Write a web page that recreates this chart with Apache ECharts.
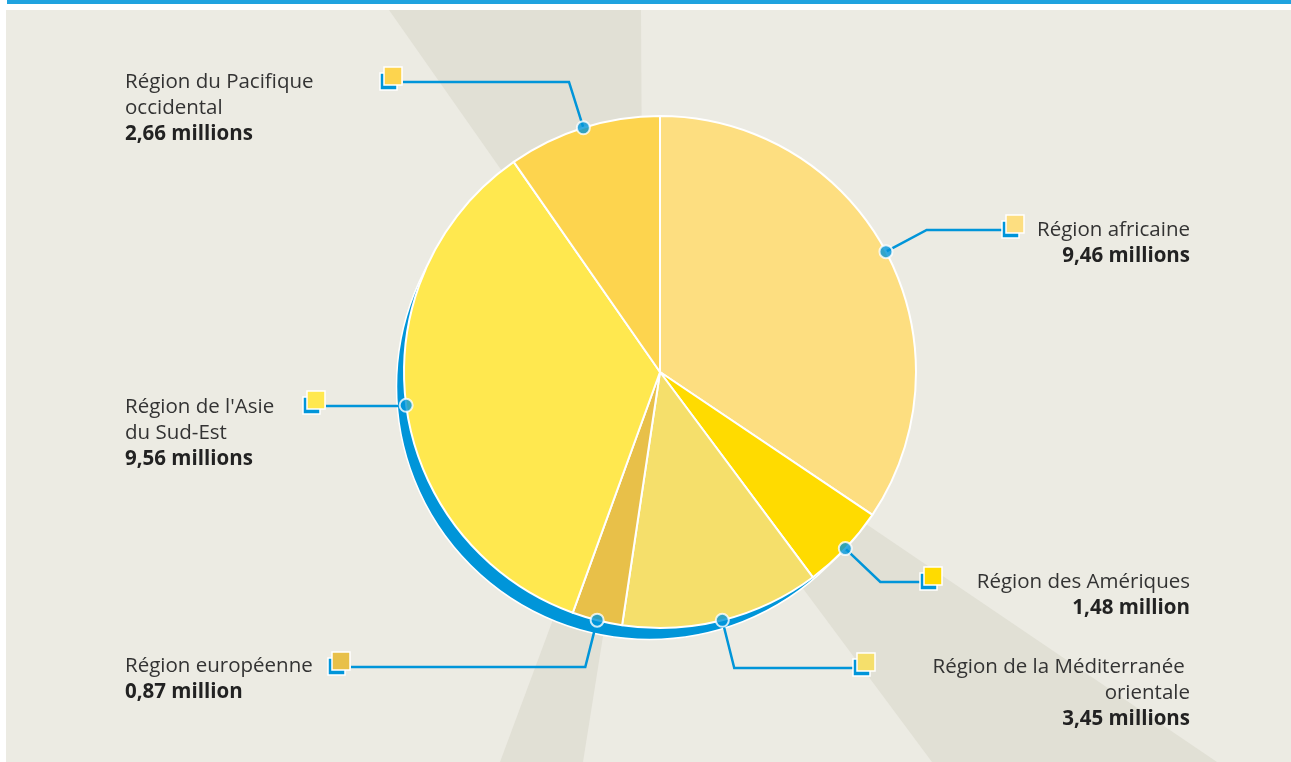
<!DOCTYPE html>
<html>
<head>
<meta charset="utf-8">
<script src="https://cdn.jsdelivr.net/npm/echarts@6/dist/echarts.min.js"></script>
<style>
  html, body { margin: 0; padding: 0; background: #fff; }
  #chart { width: 1291px; height: 762px; }
</style>
</head>
<body>
<div id="chart"></div>
<script>
// données : cas par région (millions)
const regions = ['Région africaine', 'Région des Amériques', 'Région de la Méditerranée \norientale', 'Région européenne', "Région de l'Asie\ndu Sud-Est", 'Région du Pacifique\noccidental'];
const values = [9.46, 1.48, 3.45, 0.87, 9.56, 2.66];
const colors = ['#FDDE80', '#FFDB00', '#F5DF6B', '#E8C049', '#FFE84F', '#FDD44E'];

// mise en page des étiquettes : [x, haut du texte, alignement]
const labelPos = [[1190, 217, 'right'], [1190, 569, 'right'], [1190, 654, 'right'], [125, 653, 'left'], [125, 394, 'left'], [125, 69, 'left']];
// coin haut-gauche des petits carrés
const markerPos = [[1006, 215], [924, 567], [857, 653], [332, 652], [307, 391], [384, 67]];

const CX = 660, CY = 372, R = 256;
const BLUE = '#0095D9';

const total = values.reduce((a, b) => a + b, 0);
let acc = 0;
const mids = values.map(v => { const m = acc + v / 2; acc += v; return m; });

function fmt(v) {
  return v.toFixed(2).replace('.', ',') + (v < 2 ? ' million' : ' millions');
}

// décor : fond, rayons, carrés
const graphics = [
  { type: 'rect', z: -10, silent: true, shape: { x: 7, y: 0, width: 1284, height: 4 }, style: { fill: '#1FA3DF' } },
  { type: 'rect', z: -10, silent: true, shape: { x: 6, y: 10, width: 1285, height: 752 }, style: { fill: '#ECEBE3' } },
  { type: 'polygon', z: -9, silent: true, shape: { points: [[389, 10], [641, 10], [643, 372]] }, style: { fill: '#E1E0D5' } },
  { type: 'polygon', z: -9, silent: true, shape: { points: [[645, 372], [500, 762], [583, 762]] }, style: { fill: '#E1E0D5' } },
  { type: 'polygon', z: -9, silent: true, shape: { points: [[642, 372], [932, 762], [1217, 762]] }, style: { fill: '#E1E0D5' } }
];
markerPos.forEach((m, i) => {
  graphics.push({ type: 'rect', z: 50, silent: true, shape: { x: m[0] - 4, y: m[1] + 6, width: 17, height: 17 }, style: { fill: BLUE, stroke: '#fff', lineWidth: 1.5 } });
  graphics.push({ type: 'rect', z: 51, silent: true, shape: { x: m[0], y: m[1], width: 18, height: 18 }, style: { fill: colors[i], stroke: '#fff', lineWidth: 1.5 } });
});

const chart = echarts.init(document.getElementById('chart'));
const option = {
  backgroundColor: '#fff',
  animation: false,
  graphic: graphics,
  polar: { center: [CX, CY], radius: [0, R] },
  angleAxis: { type: 'value', min: 0, max: total, startAngle: 90, clockwise: true, show: false },
  radiusAxis: { type: 'value', min: 0, max: 1, show: false },
  series: [
    // ombre bleue
    {
      type: 'pie',
      silent: true,
      z: 1,
      center: [CX - 10.5, CY + 14.5],
      radius: R - 3,
      label: { show: false },
      labelLine: { show: false },
      itemStyle: { color: BLUE, borderColor: '#fff', borderWidth: 1.5 },
      data: [{ name: 'ombre', value: 1 }]
    },
    {
      type: 'pie',
      z: 2,
      center: [CX, CY],
      radius: R,
      startAngle: 90,
      clockwise: true,
      itemStyle: { borderColor: '#fff', borderWidth: 2 },
      data: regions.map((n, i) => ({ name: n, value: values[i], itemStyle: { color: colors[i] } })),
      label: {
        show: true,
        position: 'outside',
        formatter: function (p) {
          const lines = p.name.split('\n').map(s => '{n|' + s + '}');
          lines.push('{v|' + fmt(p.value) + '}');
          return lines.join('\n');
        },
        rich: {
          n: { fontFamily: "'Open Sans', sans-serif", fontSize: 20.5, color: '#333333', lineHeight: 26 },
          v: { fontFamily: "'Open Sans', sans-serif", fontSize: 20.5, fontWeight: 'bold', color: '#222222', lineHeight: 26 }
        }
      },
      labelLine: { show: true, length: 48, length2: 20, lineStyle: { color: BLUE, width: 2.5 } },
      labelLayout: function (p) {
        const i = p.dataIndex;
        const lp = labelPos[i], mp = markerPos[i];
        const ly = mp[1] + 15;
        const ex = lp[2] === 'right' ? mp[0] - 2 : mp[0] + 19;
        const res = { x: lp[0], y: lp[1], align: lp[2], verticalAlign: 'top' };
        if (p.labelLinePoints) {
          const p0 = p.labelLinePoints[0];
          const dx = p0[0] - CX, dy = p0[1] - CY;
          const bx = p0[0] + (ly - p0[1]) * dx / dy;
          res.labelLinePoints = [p0, [bx, ly], [ex, ly]];
        }
        return res;
      }
    },
    // points sur le bord
    {
      type: 'scatter',
      coordinateSystem: 'polar',
      z: 5,
      silent: true,
      symbolSize: 13,
      itemStyle: { color: BLUE, borderColor: '#fff', borderWidth: 2 },
      data: mids.map(m => [1, m])
    }
  ]
};
chart.setOption(option);
</script>
</body>
</html>
